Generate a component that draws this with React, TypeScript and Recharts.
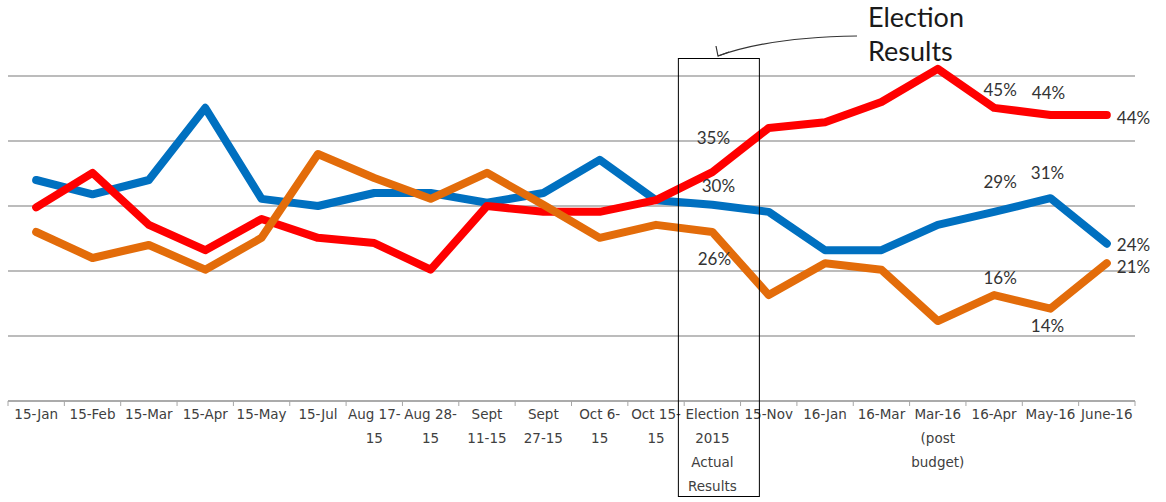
import React from 'react';
import { LineChart, Line, XAxis, YAxis, CartesianGrid } from 'recharts';

const categories = [
  '15-Jan', '15-Feb', '15-Mar', '15-Apr', '15-May', '15-Jul',
  'Aug 17-\n15', 'Aug 28-\n15', 'Sept\n11-15', 'Sept\n27-15', 'Oct 6-\n15', 'Oct 15-\n15',
  'Election\n2015\nActual\nResults', '15-Nov', '16-Jan', '16-Mar',
  'Mar-16\n(post\nbudget)', '16-Apr', 'May-16', 'June-16',
];

const blueValues = [34, 31.8, 34, 45.1, 31.1, 30, 32, 32, 30.5, 32, 37.1, 30.9, 30.2, 29.1, 23.2, 23.2, 27.1, 29.1, 31.2, 24.2];
const redValues = [29.8, 35.1, 27.1, 23.2, 28, 25.1, 24.3, 20.2, 30, 29.1, 29.1, 30.9, 35.2, 42, 42.9, 46, 51.1, 45.1, 44, 44];
const orangeValues = [26, 22, 24, 20.2, 25.1, 38, 34.3, 31.1, 35.1, 30.2, 25.1, 27.1, 26, 16.3, 21.2, 20.2, 12.3, 16.3, 14.2, 21.2];

const yTicks = [0, 10, 20, 30, 40, 50];

// which points carry a value label
const labelledPoints = [12, 17, 18, 19];

// label placement (dx, dy from the point, anchor) per series
const blueLabelPos: Record<number, [number, number, string]> = {
  12: [6, -19, 'middle'], 17: [6, -30, 'middle'], 18: [-3, -26, 'middle'], 19: [10, 1, 'start'],
};
const redLabelPos: Record<number, [number, number, string]> = {
  12: [1, -35, 'middle'], 17: [6, -18, 'middle'], 18: [-2, -23, 'middle'], 19: [10, 2, 'start'],
};
const orangeLabelPos: Record<number, [number, number, string]> = {
  12: [2, 26, 'middle'], 17: [6, -18, 'middle'], 18: [-3, 17, 'middle'], 19: [10, 3, 'start'],
};

const W = 1166;
const H = 502;
const PLOT_LEFT = 8;
const PLOT_RIGHT = 1135;
const AXIS_Y = 401;
const PX_PER_UNIT = 6.5;
const Y_MAX = 55;
const PLOT_TOP = AXIS_Y - Y_MAX * PX_PER_UNIT;
const BAND = (PLOT_RIGHT - PLOT_LEFT) / categories.length;
const ELECTION_IDX = 12;

const data = categories.map((c, i) => ({
  idx: i,
  blue: blueValues[i],
  red: redValues[i],
  orange: orangeValues[i],
}));

const xTicks: number[] = [];
for (let t = -0.5; t <= categories.length - 0.5; t += 0.5) xTicks.push(t);

// only draw grid lines at the real ticks (not at the padded top)
const gridRows = (p: any) => {
  const off = p?.offset;
  return yTicks.map((t) =>
    off && typeof off.top === 'number' && typeof off.height === 'number'
      ? off.top + off.height * (1 - t / Y_MAX)
      : AXIS_Y - t * PX_PER_UNIT,
  );
};

const AxisTick = (props: any) => {
  const { x, y, payload } = props;
  const v = payload.value as number;
  if (!Number.isInteger(v)) {
    return <line x1={x} x2={x} y1={y} y2={y + 5} stroke="#a6a6a6" strokeWidth={1} />;
  }
  const lines = categories[v].split('\n');
  return (
    <text x={x} y={y} textAnchor="middle" fill="#404040" fontSize={13.5} fontFamily="'DejaVu Sans', sans-serif">
      {lines.map((l, i) => (
        <tspan key={i} x={x} y={y + 18 + i * 24}>{l}</tspan>
      ))}
    </text>
  );
};

const makeLabel = (pos: Record<number, [number, number, string]>) => (props: any) => {
  const { x, y, index, value } = props;
  if (!labelledPoints.includes(index) || !pos[index]) return <g key={`l-${index}`} />;
  const [dx, dy, anchor] = pos[index];
  return (
    <text
      key={`l-${index}`}
      x={x + dx}
      y={y + dy}
      textAnchor={anchor as any}
      dominantBaseline="central"
      fill="#333333"
      fontSize={17}
      fontFamily="Lato, sans-serif"
    >
      {Math.round(value)}%
    </text>
  );
};

export default function App() {
  const boxLeft = PLOT_LEFT + BAND * (ELECTION_IDX + 0.5) - 34;
  const boxRight = PLOT_LEFT + BAND * (ELECTION_IDX + 0.5) + 47;
  return (
    <div style={{ position: 'absolute', left: 0, top: 0, width: W, height: H, background: '#fff' }}>
      <LineChart
        width={W}
        height={H}
        data={data}
        margin={{ top: PLOT_TOP, right: W - PLOT_RIGHT, bottom: 0, left: PLOT_LEFT }}
      >
        <CartesianGrid
          vertical={false}
          stroke="#a6a6a6"
          strokeWidth={1.3}
          horizontalCoordinatesGenerator={gridRows}
        />
        <XAxis
          dataKey="idx"
          type="number"
          domain={[-0.5, categories.length - 0.5]}
          ticks={xTicks}
          interval={0}
          height={H - AXIS_Y}
          tickLine={false}
          tickSize={0}
          tickMargin={0}
          axisLine={{ stroke: '#a6a6a6', strokeWidth: 1.3 }}
          tick={<AxisTick />}
        />
        <YAxis hide domain={[0, Y_MAX]} ticks={yTicks} />
        <Line
          dataKey="blue"
          stroke="#0070c0"
          strokeWidth={8}
          dot={false}
          strokeLinejoin="round"
          strokeLinecap="round"
          isAnimationActive={false}
          label={makeLabel(blueLabelPos)}
        />
        <Line
          dataKey="red"
          stroke="#ff0000"
          strokeWidth={8}
          dot={false}
          strokeLinejoin="round"
          strokeLinecap="round"
          isAnimationActive={false}
          label={makeLabel(redLabelPos)}
        />
        <Line
          dataKey="orange"
          stroke="#e36c0a"
          strokeWidth={8}
          dot={false}
          strokeLinejoin="round"
          strokeLinecap="round"
          isAnimationActive={false}
          label={makeLabel(orangeLabelPos)}
        />
      </LineChart>
      <svg width={W} height={H} style={{ position: 'absolute', left: 0, top: 0, pointerEvents: 'none' }}>
        <rect x={boxLeft} y={58.5} width={boxRight - boxLeft} height={438} fill="none" stroke="#000" strokeWidth={1} />
        <path d="M857 36 Q770 37 718 56" fill="none" stroke="#333" strokeWidth={1.2} />
        <path d="M716 46 L718 56 L729 52" fill="none" stroke="#333" strokeWidth={1.2} />
        <text x={868} y={27} fontSize={27} fill="#1a1a1a" fontFamily="Lato, sans-serif">Election</text>
        <text x={868} y={61} fontSize={27} fill="#1a1a1a" fontFamily="Lato, sans-serif">Results</text>
      </svg>
    </div>
  );
}
